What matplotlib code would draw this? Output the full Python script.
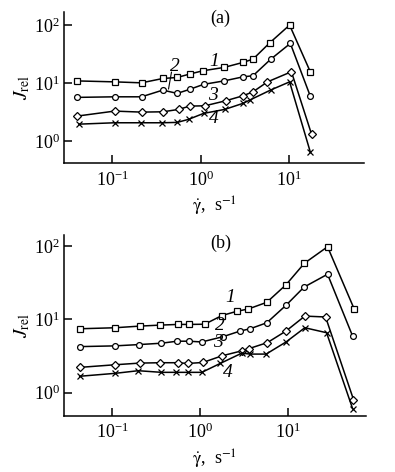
import numpy as np
import matplotlib
matplotlib.use("Agg")
from matplotlib import pyplot as plt

plt.rcParams['font.family'] = ['Liberation Serif', 'DejaVu Serif']
plt.rcParams['mathtext.fontset'] = 'stix'

# (a)
xa1 = [0.040, 0.106, 0.214, 0.373, 0.543, 0.75, 1.06, 1.84, 3.02, 3.93, 6.08, 10.2, 17.5]
ya1 = [10.9, 10.5, 10.1, 12.0, 12.5, 14.3, 16.3, 18.6, 22.7, 25.9, 49.5, 100, 15.7]
xa2 = [0.040, 0.106, 0.214, 0.373, 0.543, 0.75, 1.08, 1.84, 3.02, 3.93, 6.2, 10.4, 17.5]
ya2 = [5.67, 5.8, 5.8, 7.57, 6.64, 7.79, 9.5, 10.9, 12.8, 13.4, 25.6, 48.3, 5.97]
xa3 = [0.040, 0.106, 0.214, 0.373, 0.567, 0.75, 1.12, 1.92, 3.02, 3.93, 5.73, 10.7, 18.1]
ya3 = [2.70, 3.29, 3.16, 3.2, 3.52, 4.01, 4.06, 4.95, 6.04, 7.08, 10.5, 15.7, 1.31]
xa4 = [0.042, 0.106, 0.209, 0.366, 0.543, 0.73, 1.08, 1.88, 3.02, 3.6, 6.2, 10.2, 17.5]
ya4 = [1.96, 2.07, 2.07, 2.07, 2.1, 2.37, 3.0, 3.52, 4.47, 5.09, 7.57, 10.5, 0.65]

# (b)
xb1 = [0.0426, 0.107, 0.205, 0.352, 0.559, 0.75, 1.12, 1.76, 2.6, 3.52, 5.69, 9.42, 15.2, 27.9, 56]
yb1 = [7.46, 7.7, 8.11, 8.37, 8.55, 8.55, 8.6, 11.3, 12.9, 13.9, 17.1, 29.7, 58.2, 97.8, 13.9]
xb2 = [0.0426, 0.107, 0.2, 0.362, 0.545, 0.737, 1.04, 1.81, 2.84, 3.68, 5.69, 9.42, 15.1, 27.9, 53.7]
yb2 = [4.26, 4.36, 4.54, 4.74, 5.05, 5.05, 4.93, 5.82, 6.95, 7.46, 9.0, 15.6, 27.6, 41.3, 5.95]
xb3 = [0.0426, 0.107, 0.205, 0.352, 0.559, 0.716, 1.07, 1.76, 2.96, 3.59, 5.78, 9.42, 15.4, 26.5, 55]
yb3 = [2.22, 2.41, 2.54, 2.57, 2.57, 2.51, 2.59, 3.19, 3.73, 4.01, 4.83, 6.95, 11.1, 10.8, 0.81]
xb4 = [0.0426, 0.107, 0.197, 0.362, 0.53, 0.725, 1.04, 1.68, 2.96, 3.68, 5.6, 9.42, 15.4, 27.2, 53.7]
yb4 = [1.68, 1.84, 2.0, 1.9, 1.9, 1.9, 1.9, 2.51, 3.47, 3.37, 3.37, 4.93, 7.7, 6.59, 0.61]

ticks_x = [0.1, 1, 10]
ticks_y = [1, 10, 100]
markers = ['s', 'o', 'D', 'x']
msizes = [4.2, 4.2, 3.8, 4.6]

fig = plt.figure(figsize=(3.95, 4.72), dpi=100)
axa = fig.add_axes([0.162, 0.654, 0.760, 0.321])
axb = fig.add_axes([0.162, 0.119, 0.764, 0.383])


def draw(ax, xs, ys, xlim, ylim, name):
    for i in range(4):
        ax.plot(xs[i], ys[i], color='black', lw=1.1, marker=markers[i], ms=msizes[i],
                mfc='white', mec='black', mew=0.9)
    ax.set_xscale('log')
    ax.set_yscale('log')
    ax.set_xlim(xlim)
    ax.set_ylim(ylim)
    ax.set_xticks(ticks_x)
    ax.set_yticks(ticks_y)
    ax.minorticks_off()
    ax.tick_params(direction='in', length=6, width=1.1, labelsize=13, pad=5)
    ax.tick_params(axis='y', pad=3)
    for s in ['left', 'bottom']:
        ax.spines[s].set_linewidth(1.1)
    ax.spines['top'].set_visible(False)
    ax.spines['right'].set_visible(False)
    ax.set_ylabel(r'$J_{\rm rel}$', fontsize=14, labelpad=1)
    ax.set_xlabel(r'$\dot{\mathrm{\gamma}}$,  s$^{-1}$', fontsize=13, labelpad=4)
    ax.text(0.52, 0.955, name, transform=ax.transAxes, ha='center', va='center', fontsize=13)


draw(axa, [xa1, xa2, xa3, xa4], [ya1, ya2, ya3, ya4],
     (10 ** -1.548, 10 ** 1.854), (10 ** -0.383, 10 ** 2.229), '(a)')
draw(axb, [xb1, xb2, xb3, xb4], [yb1, yb2, yb3, yb4],
     (10 ** -1.549, 10 ** 1.88), (10 ** -0.314, 10 ** 2.15), '(b)')

lab = dict(fontsize=14, fontstyle='italic', ha='center', va='center')
axa.text(1.41, 23.9, '1', **lab)
axa.text(0.507, 19.6, '2', **lab)
axa.annotate('', xy=(0.433, 7.88), xytext=(0.468, 15.5),
             arrowprops=dict(arrowstyle='-', color='black', lw=0.8, shrinkA=0, shrinkB=0))
axa.text(1.37, 6.21, '3', **lab)
axa.text(1.41, 2.49, '4', **lab)

axb.text(2.19, 19.6, '1', **lab)
axb.text(1.68, 8.3, '2', **lab)
axb.text(1.59, 4.83, '3', **lab)
axb.text(2.06, 1.9, '4', **lab)

fig.savefig('out.png', dpi=100)
